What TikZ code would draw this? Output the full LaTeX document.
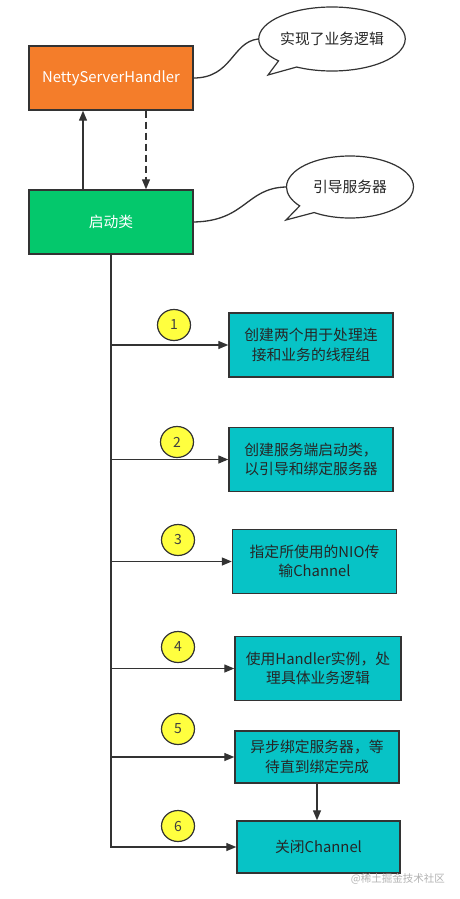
\documentclass[tikz,border=0pt]{standalone}
\usepackage{fontspec}
\setmainfont{Noto Sans CJK SC}
\usetikzlibrary{arrows.meta,shapes.geometric,shapes.callouts,calc}
\definecolor{bordc}{HTML}{333333}
\definecolor{orangec}{HTML}{F47D2A}
\definecolor{greenc}{HTML}{04C86C}
\definecolor{cyanc}{HTML}{07C3C6}
\definecolor{yellowc}{HTML}{FFFF3F}
\tikzset{
  box/.style={draw=bordc, line width=1.4pt, inner sep=0pt, font=\fontsize{14.8}{19.5}\selectfont, align=center},
  topbox/.style={box, text=white, minimum width=164pt, minimum height=64pt},
  stepbox/.style={box, fill=cyanc, text=black!85, minimum width=164pt, minimum height=64pt},
  numc/.style={ellipse, draw=bordc, line width=1.2pt, fill=yellowc, minimum width=33pt, minimum height=31pt, inner sep=0pt, font=\fontsize{14}{14}\selectfont, text=black!75},
  bubble/.style={ellipse callout, draw=bordc, line width=1.2pt, fill=white, inner sep=0pt, font=\fontsize{14.8}{14.8}\selectfont, text=black!85, callout pointer arc=18},
  arr/.style={draw=bordc, line width=1.3pt, -{Triangle[length=10pt,width=8pt]}},
  ln/.style={draw=bordc, line width=1.3pt},
}
\begin{document}
\begin{tikzpicture}[x=1pt,y=-1pt]
\useasboundingbox (0,0) rectangle (459,899);
% top boxes
\node[topbox, fill=orangec] (netty) at (111,78) {NettyServerHandler};
\node[topbox, fill=greenc] (start) at (111,222) {启动类};
% callouts
\node[bubble, minimum width=129pt, minimum height=64pt, callout absolute pointer={(268,75)}] (b1) at (332,39) {实现了业务逻辑};
\node[bubble, minimum width=127pt, minimum height=62pt, callout absolute pointer={(286,220)}] (b2) at (350,187) {引导服务器};
\draw[ln] (netty.east) .. controls (232,78) and (232,42) .. (b1.west);
\draw[ln] (start.east) .. controls (246,221) and (246,188) .. (b2.west);
% arrows between top boxes
\draw[arr] ($(start.north)+(-28,0)$) -- ($(netty.south)+(-28,0)$);
\draw[arr, dashed, dash pattern=on 7pt off 4pt] ($(netty.south)+(35,0)$) -- ($(start.north)+(35,0)$);
% step boxes
\node[stepbox] (s1) at (311,345) {创建两个用于处理连\\接和业务的线程组};
\node[stepbox] (s2) at (311,459.5) {创建服务端启动类，\\以引导和绑定服务器};
\node[stepbox] (s3) at (314.5,561.5) {指定所使用的NIO传\\输Channel};
\node[stepbox, minimum width=166pt] (s4) at (318,668.5) {使用Handler实例，处\\理具体业务逻辑};
\node[stepbox, minimum height=52pt] (s5) at (317,757) {异步绑定服务器，等\\待直到绑定完成};
\node[stepbox, minimum width=163pt, minimum height=52pt] (s6) at (318.5,847) {关闭Channel};
% numbers
\node[numc] (n1) at (174,325) {1};
\node[numc] (n2) at (177,442) {2};
\node[numc] (n3) at (178,540) {3};
\node[numc] (n4) at (178,647) {4};
\node[numc] (n5) at (178,729) {5};
\node[numc] (n6) at (178,826) {6};
% trunk
\draw[arr] (start.south) -- (start.south |- s6.west) -- (s6.west);
\draw[arr] (start.south |- s1.west) -- (s1.west);
\draw[arr] (start.south |- s2.west) -- (s2.west);
\draw[arr] (start.south |- s3.west) -- (s3.west);
\draw[arr] (start.south |- s4.west) -- (s4.west);
\draw[arr] (start.south |- s5.west) -- (s5.west);
\draw[arr] (s5.south) -- (s5.south |- s6.north);
% watermark
\node[anchor=east, text=black!30, font=\fontsize{10.5}{10.5}\selectfont, inner sep=0pt] (wm) at (445,879) {@稀土掘金技术社区};
\end{tikzpicture}
\end{document}
